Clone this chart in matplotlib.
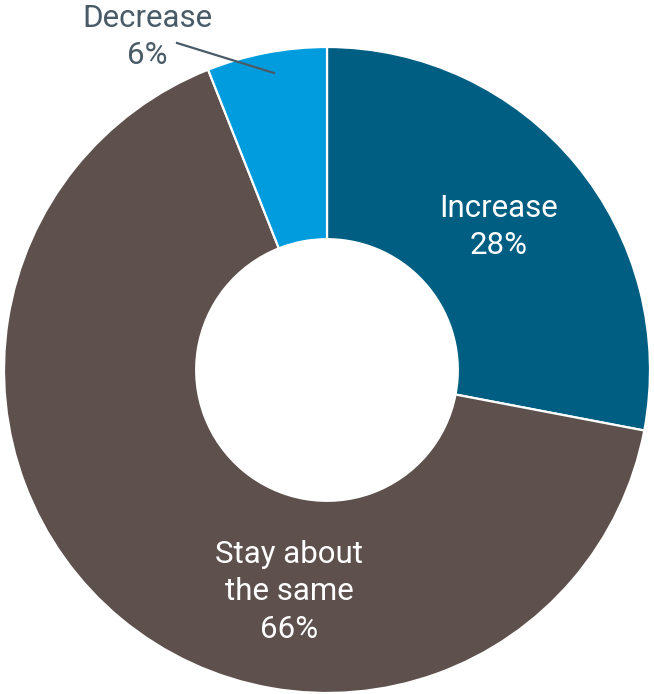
import matplotlib.pyplot as plt

labels = ["Increase", "Stay about\nthe same", "Decrease"]
shares = [28, 66, 6]
colors = ["#005E82", "#5E514D", "#009CDE"]

plt.rcParams["font.family"] = ["Roboto", "DejaVu Sans"]

fig = plt.figure(figsize=(6.54, 6.94), dpi=100)
ax = fig.add_axes([0, 0, 1, 1])

cx, cy, r = 327, 324, 323
wedges, _ = ax.pie(
    shares,
    colors=colors,
    startangle=90,
    counterclock=False,
    center=(cx, cy),
    radius=r,
    frame=True,
    wedgeprops=dict(width=r * 0.595, edgecolor="white", linewidth=1.6),
)
ax.set_xlim(0, 654)
ax.set_ylim(0, 694)
ax.set_aspect("equal")
ax.axis("off")

fs = 22.5
ls = 1.38

# inside labels
ax.text(499, 694 - 227, f"{labels[0]}\n{shares[0]}%", color="white",
        ha="center", va="center", fontsize=fs, linespacing=ls)
ax.text(289, 694 - 592, f"{labels[1]}\n{shares[1]}%", color="white",
        ha="center", va="center", fontsize=fs, linespacing=ls)

# outside label with leader line for the small slice
ax.text(147, 694 - 37, f"{labels[2]}\n{shares[2]}%", color="#4A5B68",
        ha="center", va="center", fontsize=fs, linespacing=ls)
ax.plot([177, 274], [694 - 43, 694 - 73], color="#4A5B68", linewidth=1.6)

fig.savefig("out.png", dpi=100)
